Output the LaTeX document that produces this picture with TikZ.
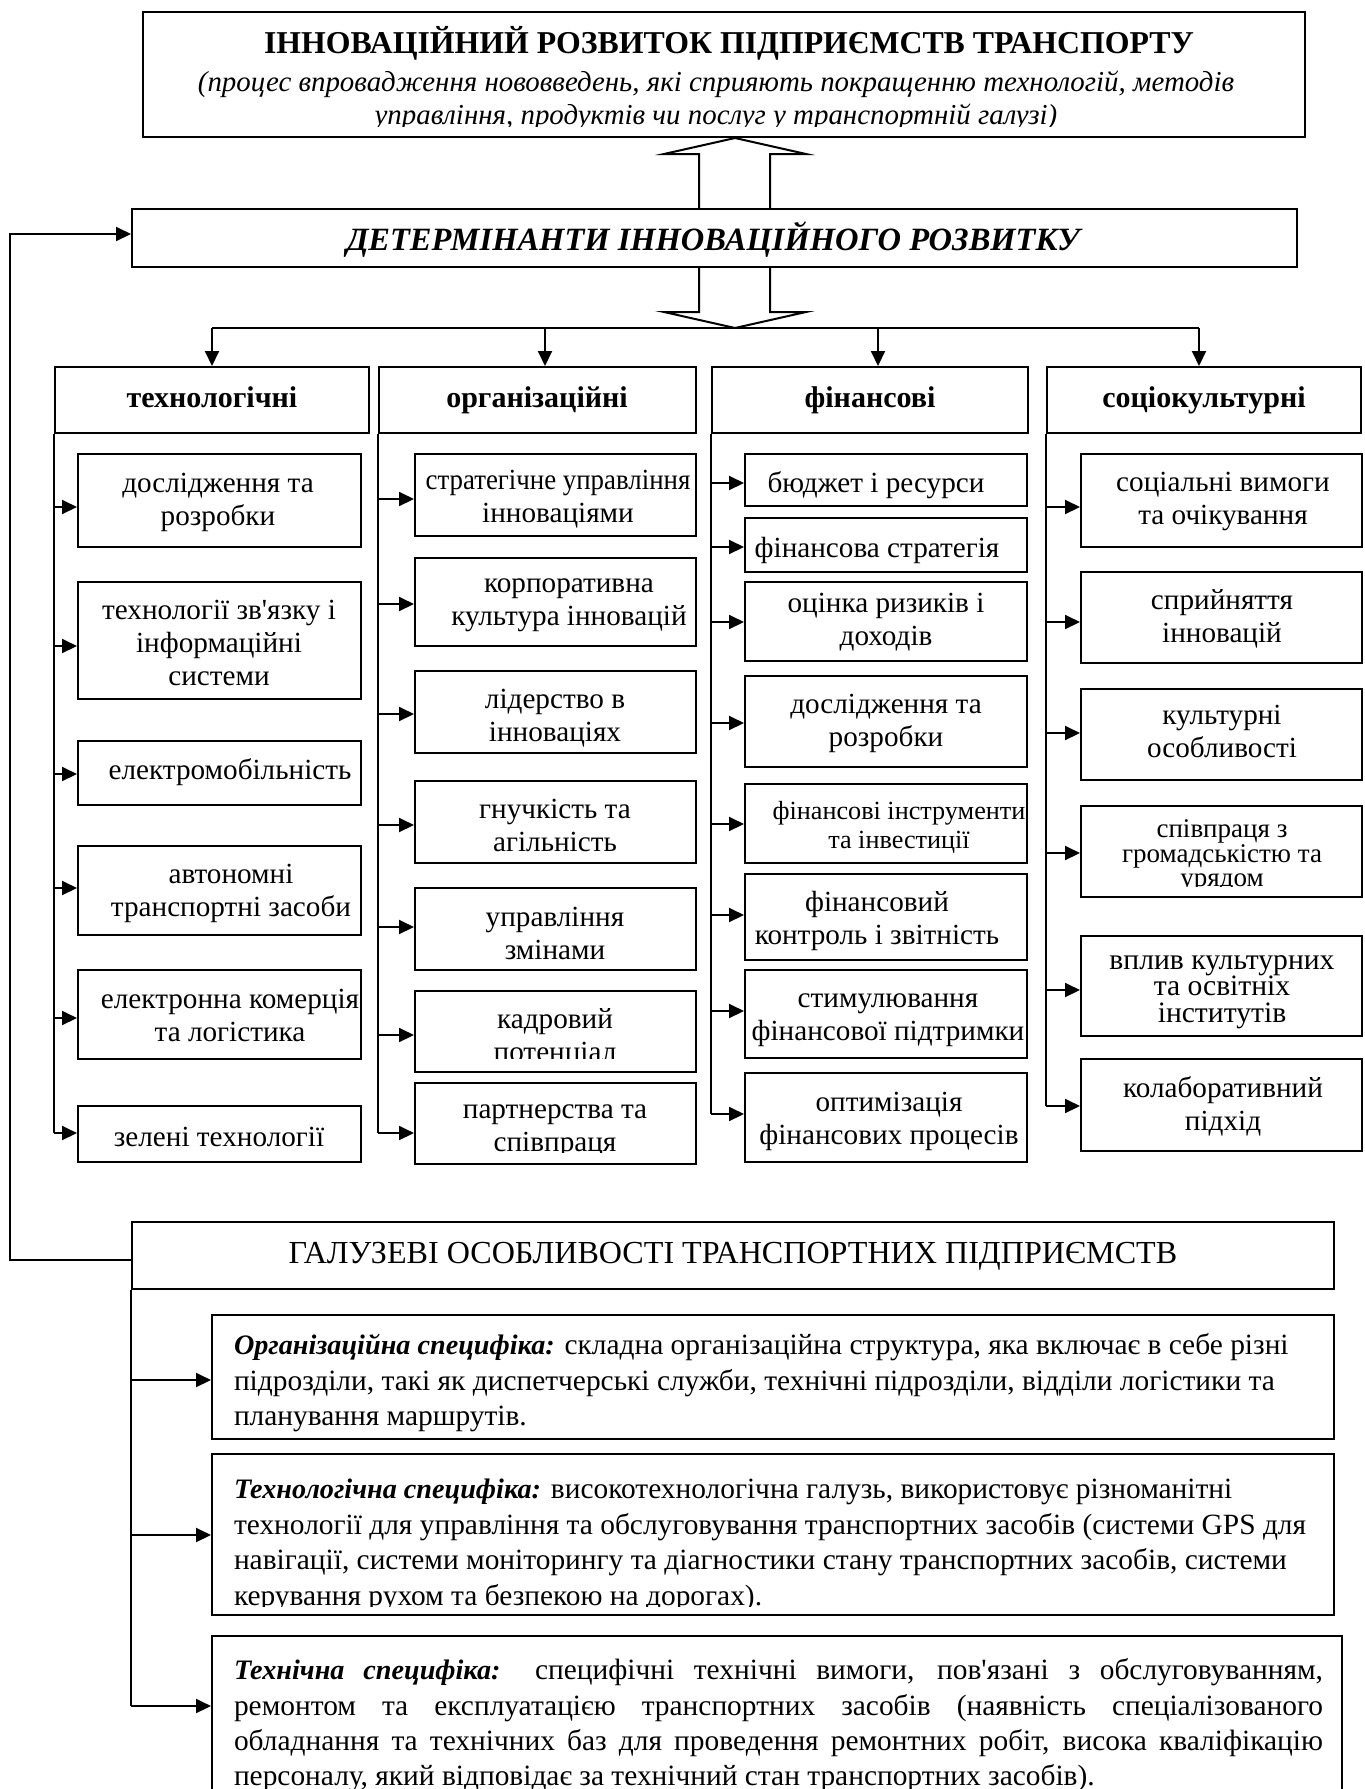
\documentclass[tikz,border=0pt]{standalone}
\usepackage{fontspec}
\usepackage{graphicx}
\setmainfont{Liberation Serif}[Ligatures=TeXOff]
\usetikzlibrary{fit,arrows.meta}
\newcommand\leaf[8]{%
  \node[boxst, fit={(#2,#3) (#4,#5)}] (#1) {};
  \node[leaftxt] (#1t) at (#6,#7) {#8};
}
\newcommand\leafclip[9]{%
  \node[boxst, fit={(#2,#3) (#4,#5)}] (#1) {};
  \begin{scope}
    \clip (#2-80,#3) rectangle (#4+80,#9);
    \node[leaftxt] (#1t) at (#6,#7) {#8};
  \end{scope}
}
\newcommand\arrto[3]{\coordinate (tmp) at (0,#3); \draw[arr] (#1 |- tmp) -- (#2.west |- tmp);}
\newcommand\tightlines{\lineskiplimit=-20pt\relax\strut}
\newcommand\lead[1]{{\fontsize{14.1}{17.7}\selectfont\bfseries\itshape #1}}
\begin{document}
\begin{tikzpicture}[x=0.5pt,y=-0.5pt,
  line width=1pt,
  boxst/.style={draw, rectangle, inner sep=0pt, line width=1pt},
  leaftxt/.style={inner sep=0pt, align=center, yshift=-1.5pt, font=\fontsize{14.6}{16.5}\selectfont,
     execute at begin node=\strut, execute at end node=\strut},
  tight/.style={execute at begin node=\tightlines},
  hdr/.style={anchor=base, inner sep=0pt, font=\bfseries\fontsize{15}{18}\selectfont},
  bodytxt/.style={anchor=west, inner sep=0pt, align=left, yshift=-2pt, font=\fontsize{14.7}{17.7}\selectfont,
     execute at begin node=\strut, execute at end node=\strut},
  arr/.style={-{Triangle[length=7.5pt,width=7pt]}},
]
\useasboundingbox (0,0) rectangle (1365,1789);

% ---------- top ----------
\node[boxst, fit={(143,12) (1305,137)}] (top) {};
\node[anchor=base, inner sep=0pt, font=\bfseries\fontsize{15.9}{19}\selectfont] (topt) at (729,53)
  {ІННОВАЦІЙНИЙ РОЗВИТОК ПІДПРИЄМСТВ ТРАНСПОРТУ};
\begin{scope}
  \clip (143,60) rectangle (1305,126);
  \node[inner sep=0pt, align=center, font=\itshape\fontsize{14.45}{16.5}\selectfont,
        execute at begin node=\strut, execute at end node=\strut] (topsub) at (716,103)
  {(процес впровадження нововведень, які сприяють покращенню технологій, методів\\
   управління, продуктів чи послуг у транспортній галузі)};
\end{scope}

% ---------- determinants ----------
\node[boxst, fit={(132,209) (1297,267)}] (det) {};
\node[anchor=base, inner sep=0pt, font=\bfseries\itshape\fontsize{16.25}{19}\selectfont] (dett) at (713,250)
  {ДЕТЕРМІНАНТИ ІННОВАЦІЙНОГО РОЗВИТКУ};

% block arrows
\draw (det.north -| 699,0) -- (699,154) -- (664,154) -- (top.south -| 735,0) -- (806,154) -- (770,154) -- (det.north -| 770,0);
\draw (det.south -| 699,0) -- (699,312) -- (664,312) -- (735,328) -- (806,312) -- (770,312) -- (det.south -| 770,0);

% ---------- column headers ----------
\node[boxst, fit={(55,367) (369,433)}] (h1) {};
\node[boxst, fit={(379,367) (696,433)}] (h2) {};
\node[boxst, fit={(712,367) (1028,433)}] (h3) {};
\node[boxst, fit={(1047,367) (1361,433)}] (h4) {};
\node[hdr] (h1t) at (212,407) {технологічні};
\node[hdr] (h2t) at (537,407) {організаційні};
\node[hdr] (h3t) at (870,407) {фінансові};
\node[hdr] (h4t) at (1204,407) {соціокультурні};

\coordinate (d1) at (212,328);
\coordinate (d2) at (545,328);
\coordinate (d3) at (878,328);
\coordinate (d4) at (1199,328);
\draw (d1) -- (d4);
\draw[arr] (d1) -- (h1.north -| d1);
\draw[arr] (d2) -- (h2.north -| d2);
\draw[arr] (d3) -- (h3.north -| d3);
\draw[arr] (d4) -- (h4.north -| d4);

% ---------- column 1 ----------
\leaf{b11}{78}{454}{361}{547}{218}{501.5}{дослідження та\\розробки}
\leaf{b12}{78}{582}{361}{699}{219}{645}{технології зв'язку і\\інформаційні\\системи}
\leaf{b13}{78}{741}{361}{805}{230}{770}{електромобільність}
\leaf{b14}{78}{846}{361}{935}{231}{892.5}{автономні\\транспортні засоби}
\leaf{b15}{78}{970}{361}{1059}{230}{1017.5}{електронна комерція\\та логістика}
\leaf{b16}{78}{1106}{361}{1162}{219}{1137}{зелені технології}

% ---------- column 2 ----------
\leaf{b21}{415}{454}{696}{536}{558}{498}{\scalebox{0.92}[1]{стратегічне управління}\\інноваціями}
\leaf{b22}{415}{558}{696}{646}{569}{604}{корпоративна\\культура інновацій}
\leaf{b23}{415}{671}{696}{753}{555}{717}{лідерство в\\інноваціях}
\leaf{b24}{415}{781}{696}{863}{555}{827}{гнучкість та\\агільність}
\leaf{b25}{415}{888}{696}{970}{555}{935}{управління\\змінами}
\leafclip{b26}{415}{991}{696}{1072}{555}{1037}{кадровий\\потенціал}{1058}
\leafclip{b27}{415}{1083}{696}{1164}{555}{1130}{партнерства та\\співпраця}{1152}

% ---------- column 3 ----------
\leaf{b31}{745}{454}{1027}{506}{876}{483}{бюджет і ресурси}
\leaf{b32}{745}{518}{1027}{572}{877}{548}{фінансова стратегія}
\leaf{b33}{745}{582}{1027}{661}{886}{621}{оцінка ризиків і\\доходів}
\leaf{b34}{745}{676}{1027}{767}{886}{722}{дослідження та\\розробки}
\node[boxst, fit={(745,784) (1027,863)}] (b35) {};
\node[leaftxt, font=\fontsize{13.1}{14.6}\selectfont] (b35t) at (899,826)
  {фінансові інструменти\\та інвестиції};
\leaf{b36}{745}{874}{1027}{960}{877}{920}{фінансовий\\контроль і звітність}
\leaf{b37}{745}{970}{1027}{1058}{888}{1019}{стимулювання\\фінансової підтримки}
\leaf{b38}{745}{1073}{1027}{1162}{889}{1120}{оптимізація\\фінансових процесів}

% ---------- column 4 ----------
\leaf{b41}{1081}{454}{1362}{547}{1223}{500}{соціальні вимоги\\та очікування}
\leaf{b42}{1081}{572}{1362}{663}{1222}{618}{сприйняття\\інновацій}
\leaf{b43}{1081}{689}{1362}{780}{1222}{733}{культурні\\особливості}
\node[boxst, fit={(1081,806) (1362,897)}] (b44) {};
\begin{scope}
  \clip (1000,806) rectangle (1400,886);
  \node[leaftxt, tight, font=\fontsize{13.5}{12.2}\selectfont] (b44t) at (1222,854)
    {співпраця з\\громадськістю та\\урядом};
\end{scope}
\node[boxst, fit={(1081,936) (1362,1036)}] (b45) {};
\node[leaftxt, tight, font=\fontsize{14.8}{13.3}\selectfont] (b45t) at (1222,990)
  {вплив культурних\\та освітніх\\інститутів};
\leaf{b46}{1081}{1059}{1362}{1151}{1223}{1105}{колаборативний\\підхід}

% ---------- column connectors ----------
\draw (h1.south west) -- (h1.south west |- 0,1133);
\draw (h2.south west) -- (h2.south west |- 0,1133);
\draw (h3.south west) -- (h3.south west |- 0,1114);
\draw (h4.south west) -- (h4.south west |- 0,1106);

\arrto{h1.south west}{b11}{507}
\arrto{h1.south west}{b12}{646}
\arrto{h1.south west}{b13}{774}
\arrto{h1.south west}{b14}{888}
\arrto{h1.south west}{b15}{1018}
\arrto{h1.south west}{b16}{1133}

\arrto{h2.south west}{b21}{499}
\arrto{h2.south west}{b22}{604}
\arrto{h2.south west}{b23}{714}
\arrto{h2.south west}{b24}{825}
\arrto{h2.south west}{b25}{927}
\arrto{h2.south west}{b26}{1035}
\arrto{h2.south west}{b27}{1133}

\arrto{h3.south west}{b31}{483}
\arrto{h3.south west}{b32}{547}
\arrto{h3.south west}{b33}{622}
\arrto{h3.south west}{b34}{723}
\arrto{h3.south west}{b35}{824}
\arrto{h3.south west}{b36}{915}
\arrto{h3.south west}{b37}{1011}
\arrto{h3.south west}{b38}{1114}

\arrto{h4.south west}{b41}{507}
\arrto{h4.south west}{b42}{622}
\arrto{h4.south west}{b43}{733}
\arrto{h4.south west}{b44}{853}
\arrto{h4.south west}{b45}{990}
\arrto{h4.south west}{b46}{1106}

% ---------- industry features ----------
\node[boxst, fit={(132,1222) (1334,1289)}] (gal) {};
\node[anchor=base, inner sep=0pt, font=\fontsize{16.05}{20}\selectfont] (galt) at (733,1263)
  {ГАЛУЗЕВІ ОСОБЛИВОСТІ ТРАНСПОРТНИХ ПІДПРИЄМСТВ};

\node[boxst, fit={(212,1315) (1334,1439)}] (o1) {};
\node[bodytxt, yshift=1pt] (o1t) at (233,1383)
  {\lead{Організаційна специфіка:} складна організаційна структура, яка включає в себе різні\\
   підрозділи, такі як диспетчерські служби, технічні підрозділи, відділи логістики та\\
   планування маршрутів.};

\node[boxst, fit={(212,1454) (1334,1615)}] (o2) {};
\begin{scope}
  \clip (212,1454) rectangle (1334,1606);
  \node[bodytxt] (o2t) at (233,1543.5)
  {\lead{Технологічна специфіка:} високотехнологічна галузь, використовує різноманітні\\
   технології для управління та обслуговування транспортних засобів (системи GPS для\\
   навігації, системи моніторингу та діагностики стану транспортних засобів, системи\\
   керування рухом та безпекою на дорогах).};
\end{scope}

\node[boxst, fit={(212,1636) (1342,1800)}] (o3) {};
\node[bodytxt] (o3t) at (233,1723.5)
  {\makebox[544.5pt][s]{\lead{Технічна специфіка:} специфічні технічні вимоги, пов'язані з обслуговуванням,}\\
   \makebox[544.5pt][s]{ремонтом та експлуатацією транспортних засобів (наявність спеціалізованого}\\
   \makebox[544.5pt][s]{обладнання та технічних баз для проведення ремонтних робіт, висока кваліфікацію}\\
   персоналу, який відповідає за технічний стан транспортних засобів).};

\draw (gal.south west) -- (gal.south west |- 0,1706);
\arrto{gal.south west}{o1}{1380}
\arrto{gal.south west}{o2}{1535}
\arrto{gal.south west}{o3}{1706}

% feedback loop
\coordinate (fbb) at (10,1260);
\coordinate (fbt) at (10,234);
\draw[arr] (gal.west |- fbb) -- (fbb) -- (fbt) -- (det.west |- fbt);
\end{tikzpicture}
\end{document}
